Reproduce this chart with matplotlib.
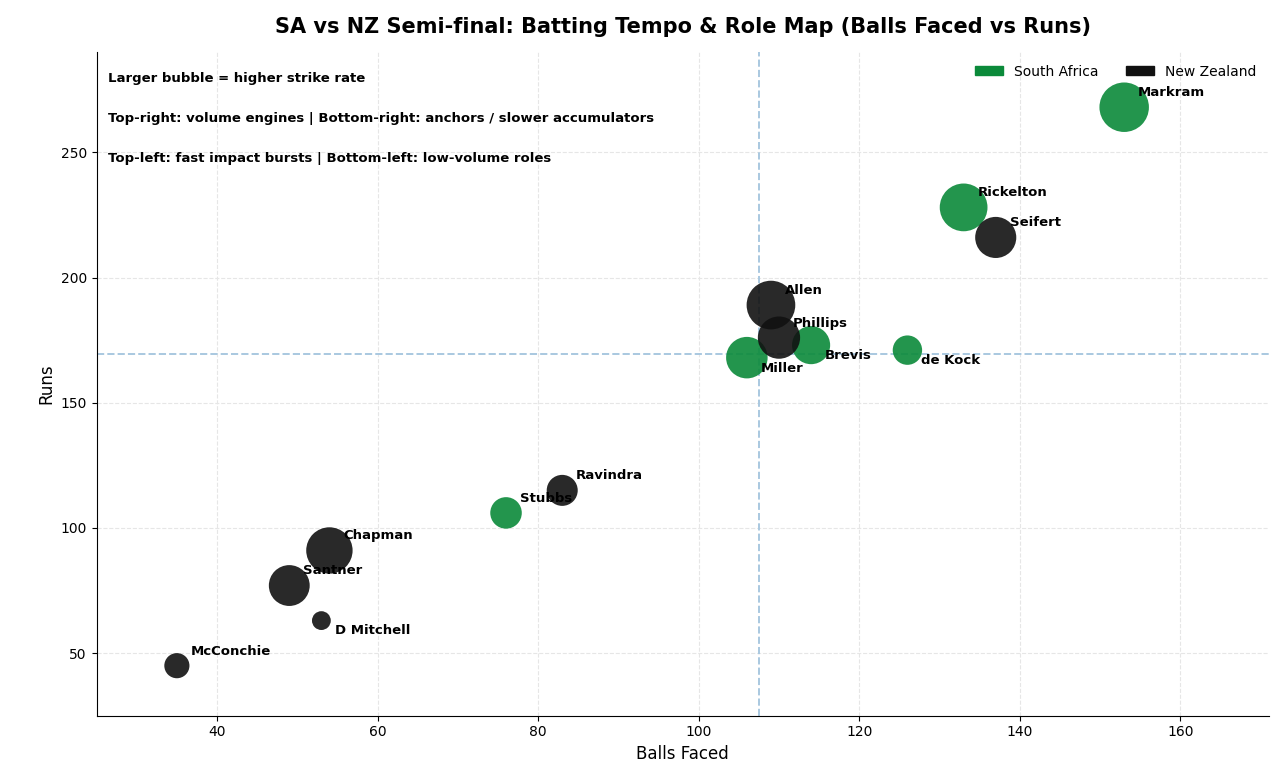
import matplotlib
matplotlib.use("Agg")
import matplotlib.pyplot as plt
import numpy as np

SA_GREEN = "#0b8a3a"
NZ_BLACK = "#111111"

players = ["Markram", "Rickelton", "Miller", "Brevis", "de Kock", "Stubbs",
           "Seifert", "Allen", "Phillips", "Ravindra", "Chapman", "Santner",
           "D Mitchell", "McConchie"]
teams = ["South Africa"] * 6 + ["New Zealand"] * 8
balls = [153, 133, 106, 114, 126, 76, 137, 109, 110, 83, 54, 49, 53, 35]
runs = [268, 228, 168, 173, 171, 106, 216, 189, 176, 115, 91, 77, 63, 45]
below = {"Miller", "Brevis", "de Kock", "D Mitchell"}

balls = np.array(balls)
runs = np.array(runs)
sr = runs / balls * 100
sizes = 3.0 * np.clip(sr - 100, 5, None) ** 1.4

fig, ax = plt.subplots(figsize=(12.88, 7.78), dpi=100)
fig.subplots_adjust(left=0.075, right=0.985, top=0.933, bottom=0.08)

for team, col in [("South Africa", SA_GREEN), ("New Zealand", NZ_BLACK)]:
    m = np.array([t == team for t in teams])
    ax.scatter(balls[m], runs[m], s=sizes[m], color=col, alpha=0.9,
               edgecolor="none", label=team, zorder=3)

for name, x, y in zip(players, balls, runs):
    dy = -10 if name in below else 8
    ax.annotate(name, (x, y), xytext=(10, dy), textcoords="offset points",
                fontsize=9.5, fontweight="bold", zorder=4)

ax.axvline(np.median(balls), color="#a9c8e0", ls="--", lw=1.4, zorder=1)
ax.axhline(np.median(runs), color="#a9c8e0", ls="--", lw=1.4, zorder=1)

notes = ["Larger bubble = higher strike rate",
         "Top-right: volume engines | Bottom-right: anchors / slower accumulators",
         "Top-left: fast impact bursts | Bottom-left: low-volume roles"]
for i, txt in enumerate(notes):
    ax.text(0.01, 0.97 - i * 0.06, txt, transform=ax.transAxes,
            fontsize=9.5, fontweight="bold", va="top")

ax.set_xlim(25, 171)
ax.set_ylim(25, 290)
ax.set_xticks([40, 60, 80, 100, 120, 140, 160])
ax.set_yticks([50, 100, 150, 200, 250])
ax.grid(True, ls="--", color="#e6e6e6", lw=0.8)
ax.set_axisbelow(True)
for s in ["top", "right"]:
    ax.spines[s].set_visible(False)
ax.set_xlabel("Balls Faced", fontsize=12)
ax.set_ylabel("Runs", fontsize=12)
ax.set_title("SA vs NZ Semi-final: Batting Tempo & Role Map (Balls Faced vs Runs)",
             fontsize=15, fontweight="bold", pad=14)

leg = ax.legend(loc="upper right", ncol=2, frameon=False, fontsize=10,
                markerscale=0.01, handlelength=2, handletextpad=0.6)
for h, col in zip(leg.legend_handles, [SA_GREEN, NZ_BLACK]):
    h.set_sizes([0])
# draw rectangle-style handles
from matplotlib.patches import Patch
ax.legend(handles=[Patch(color=SA_GREEN, label="South Africa"),
                   Patch(color=NZ_BLACK, label="New Zealand")],
          loc="upper right", ncol=2, frameon=False, fontsize=10,
          handlelength=2, handleheight=0.6, columnspacing=2)

fig.savefig("out.png", dpi=100)
